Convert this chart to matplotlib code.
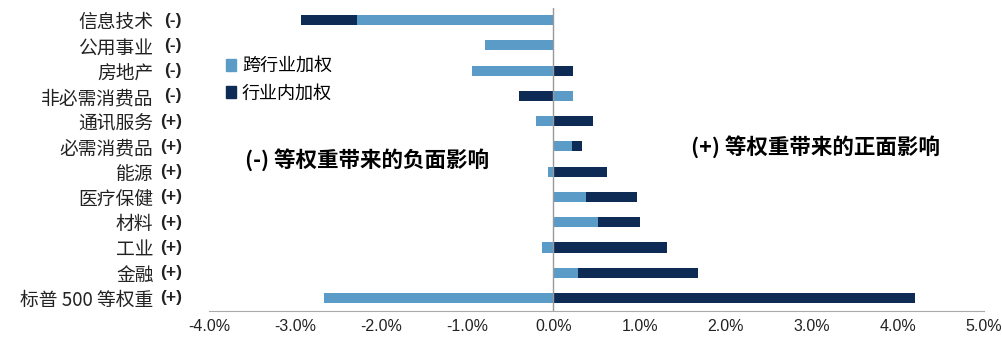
import matplotlib.pyplot as plt
import numpy as np
from matplotlib.patches import Patch

plt.rcParams['font.family'] = ['Noto Sans CJK SC', 'DejaVu Sans']

sectors = ['信息技术', '公用事业', '房地产', '非必需消费品', '通讯服务', '必需消费品',
           '能源', '医疗保健', '材料', '工业', '金融', '标普 500 等权重']
signs = ['(-)', '(-)', '(-)', '(-)', '(+)', '(+)', '(+)', '(+)', '(+)', '(+)', '(+)', '(+)']
cross = [-2.28, -0.80, -0.95, 0.23, -0.20, 0.21, -0.06, 0.38, 0.52, -0.13, 0.29, -2.66]
within = [-0.65, 0.0, 0.23, -0.40, 0.46, 0.12, 0.62, 0.59, 0.49, 1.32, 1.39, 4.20]
xticks = [-4, -3, -2, -1, 0, 1, 2, 3, 4, 5]

light = '#5b9bc8'
dark = '#0d2b55'

fig = plt.figure(figsize=(10.03, 3.39), dpi=100)
ax = fig.add_axes([0.2084, 0.0838, 0.7727, 0.894])

y = np.arange(len(sectors))
cross = np.array(cross)
within = np.array(within)
# excel-style stacking: same sign stacks on top, opposite sign starts from 0
left = np.where(np.sign(within) == np.sign(cross), cross, 0)
ax.barh(y, cross, height=0.4, color=light, zorder=2)
ax.barh(y, within, left=left, height=0.4, color=dark, zorder=2)

ax.axvline(0, color='#999999', lw=1, zorder=3)
ax.set_xlim(-4, 5)
ax.set_ylim(len(sectors) - 0.5, -0.5)
ax.set_xticks(xticks)
ax.set_xticklabels([f'{v:.1f}%' for v in xticks], fontsize=11.5,
                   family=['Liberation Sans'], color='#222222')
ax.set_yticks(y)
ax.set_yticklabels(sectors, fontsize=13.5, color='#222222')
ax.tick_params(axis='y', length=0, pad=40)
ax.tick_params(axis='x', length=0, pad=6)
for s in ['top', 'right', 'left']:
    ax.spines[s].set_visible(False)
ax.spines['bottom'].set_color('#aaaaaa')

for i, s in enumerate(signs):
    ax.text(-0.035, i, s, transform=ax.get_yaxis_transform(), ha='right', va='center',
            fontsize=12.5, family=['Liberation Sans'], fontweight='bold', color='#222222')

handles = [Patch(color=light), Patch(color=dark)]
ax.legend(handles, ['跨行业加权', '行业内加权'], loc='upper left',
          bbox_to_anchor=(0.012, 0.86), frameon=False, fontsize=13, borderaxespad=0,
          handlelength=0.6, handleheight=0.6, handletextpad=0.3, labelspacing=0.5)

ax.text(-3.58, 5.5, '(-) 等权重带来的负面影响', fontsize=15.5, fontweight='bold', va='center')
ax.text(1.6, 5.0, '(+) 等权重带来的正面影响', fontsize=15.5, fontweight='bold', va='center')

fig.savefig('out.png', dpi=100)
